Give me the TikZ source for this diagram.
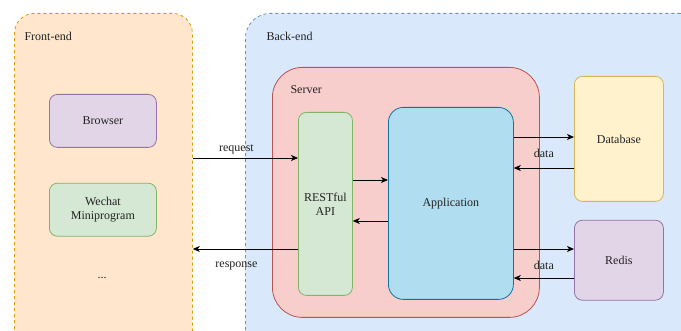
\documentclass[tikz,border=0pt]{standalone}
\usepackage{fontspec}
\setmainfont{Liberation Serif}
\usetikzlibrary{positioning,arrows.meta}

\definecolor{feFill}{HTML}{FFE6CC}
\definecolor{feDraw}{HTML}{D79B00}
\definecolor{beFill}{HTML}{DAE8FC}
\definecolor{beDraw}{HTML}{6C8EBF}
\definecolor{srvFill}{HTML}{F8CECC}
\definecolor{srvDraw}{HTML}{B85450}
\definecolor{grnFill}{HTML}{D5E8D4}
\definecolor{grnDraw}{HTML}{82B366}
\definecolor{appFill}{HTML}{B1DDF0}
\definecolor{appDraw}{HTML}{10739E}
\definecolor{dbFill}{HTML}{FFF2CC}
\definecolor{dbDraw}{HTML}{D6B656}
\definecolor{purFill}{HTML}{E1D5E7}
\definecolor{purDraw}{HTML}{9673A6}
\definecolor{txt}{HTML}{222222}

\begin{document}
\begin{tikzpicture}[x=1pt,y=-1pt,>={Stealth[length=7pt,width=6pt,inset=2pt]},font=\fontsize{12}{14}\selectfont,text=txt]
  \tikzstyle{block}=[draw,line width=0.8pt,rounded corners=8pt,anchor=north west,align=center]
  \tikzstyle{group}=[block,dash pattern=on 3pt off 3pt]
  \tikzstyle{flow}=[->,line width=0.8pt]

  \useasboundingbox (0,0) rectangle (681,331);
  \clip (0,0) rectangle (681,331);

  % front-end side
  \node[group,draw=feDraw,fill=feFill,rounded corners=20pt,minimum width=178pt,minimum height=340pt] (fe) at (14,13) {};
  \node[anchor=west] (felabel) at (21,36) {Front-end};
  \node[block,draw=purDraw,fill=purFill,minimum width=107pt,minimum height=53pt] (browser) at (49,94) {Browser};
  \node[block,draw=grnDraw,fill=grnFill,minimum width=107pt,minimum height=53pt,below=35pt of browser] (wechat) {Wechat\\Miniprogram};
  \node (dots) at (102,278) {...};

  % back-end side
  \node[group,draw=beDraw,fill=beFill,rounded corners=25pt,minimum width=460pt,minimum height=340pt] (be) at (245,13) {};
  \node[anchor=west] (belabel) at (263,36) {Back-end};
  \node[block,draw=srvDraw,fill=srvFill,rounded corners=30pt,minimum width=267pt,minimum height=250pt] (server) at (272,67) {};
  \node[anchor=west] (srvlabel) at (287,90) {Server};
  \node[block,draw=grnDraw,fill=grnFill,minimum width=54pt,minimum height=183pt] (api) at (298,112) {RESTful\\API};
  \node[block,draw=appDraw,fill=appFill,rounded corners=15pt,minimum width=125pt,minimum height=192pt] (app) at (388,107) {Application};
  \node[block,draw=dbDraw,fill=dbFill,minimum width=89pt,minimum height=125pt] (db) at (574,76) {Database};
  \node[block,draw=purDraw,fill=purFill,minimum width=89pt,minimum height=80pt,below=18pt of db] (redis) {Redis};

  % connectors
  \draw[flow] (fe.east |- 0,158) -- node[above,pos=0.415] {request} (api.west |- 0,158);
  \draw[flow] (api.west |- 0,249) -- node[below=9pt,pos=0.585] {response} (fe.east |- 0,249);
  \draw[flow] (api.east |- 0,180) -- (app.west |- 0,180);
  \draw[flow] (app.west |- 0,221) -- (api.east |- 0,221);
  \draw[flow] (app.east |- 0,137) -- node[below=8pt] {data} (db.west |- 0,137);
  \draw[flow] (db.west |- 0,168) -- (app.east |- 0,168);
  \draw[flow] (app.east |- 0,249) -- node[below=8pt] {data} (redis.west |- 0,249);
  \draw[flow] (redis.west |- 0,278) -- (app.east |- 0,278);
\end{tikzpicture}
\end{document}
